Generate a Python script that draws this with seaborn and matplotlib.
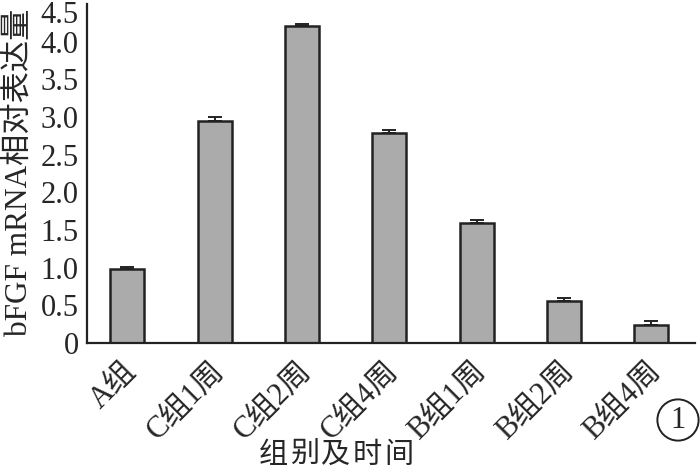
import matplotlib
matplotlib.use("Agg")
import matplotlib.pyplot as plt
import matplotlib.transforms as mtrans
import seaborn as sns
import numpy as np
import pandas as pd

categories = ["A组", "C组1周", "C组2周", "C组4周", "B组1周", "B组2周", "B组4周"]
values = [0.98, 2.95, 4.21, 2.79, 1.59, 0.56, 0.24]
errors = [0.03, 0.05, 0.03, 0.04, 0.04, 0.04, 0.05]
yticks = [0, 0.5, 1.0, 1.5, 2.0, 2.5, 3.0, 3.5, 4.0, 4.5]
ytick_labels = ["0", "0.5", "1.0", "1.5", "2.0", "2.5", "3.0", "3.5", "4.0", "4.5"]
xlabel_chars = ["组", "别", "及", "时", "间"]

sns.set_theme(style="white")
plt.rcParams['font.family'] = ['Liberation Serif', 'Noto Sans CJK SC']

W, H = 700, 472
fig = plt.figure(figsize=(W / 100, H / 100), dpi=100)
ax = fig.add_axes([87 / W, 1 - 343 / H, (695 - 87) / W, (343 - 4) / H])

df = pd.DataFrame({"group": categories, "value": values})
sns.barplot(data=df, x="group", y="value", color="#ababab", edgecolor="#222222",
            linewidth=1.8, width=0.39, saturation=1, ax=ax)
x = np.arange(len(categories))
ax.errorbar(x, values, yerr=[np.zeros(len(values)), errors], fmt="none",
            ecolor="#222222", elinewidth=1.4, capsize=4.7, capthick=1.4)

ax.set_xlim(-0.46, 6.5)
ax.set_ylim(0, 4.5)
ax.set_yticks(yticks)
ax.set_yticklabels(ytick_labels, fontsize=22)
ax.tick_params(axis="y", direction="in", length=8, width=1.4, color="#222222", pad=6)
ax.tick_params(axis="x", length=0, pad=10)
ax.set_xticks(x)
ax.set_xticklabels(categories, rotation=45, ha="right", va="top",
                   rotation_mode="anchor", fontsize=22)
shift = mtrans.ScaledTranslation(-5 / 100, 0, fig.dpi_scale_trans)
for lbl in ax.get_xticklabels():
    lbl.set_transform(lbl.get_transform() + shift)
top_lbl = ax.get_yticklabels()[-1]
top_lbl.set_va("top")
top_lbl.set_transform(top_lbl.get_transform() + mtrans.ScaledTranslation(0, 3 / 100, fig.dpi_scale_trans))

sns.despine(ax=ax)
for s in ["left", "bottom"]:
    ax.spines[s].set_color("#222222")
    ax.spines[s].set_linewidth(1.6)

ax.set_xlabel("")
ax.set_ylabel("")
fig.text(20 / W, 1 - 172 / H, "bFGF mRNA相对表达量", fontsize=22.5, rotation=90,
         ha="center", va="center")
for i, ch in enumerate(xlabel_chars):
    fig.text((273 + i * 31.5) / W, 1 - 456 / H, ch, fontsize=21, ha="center", va="center")
fig.text(678 / W, 1 - 420 / H, "1", fontsize=22, ha="center", va="center",
         bbox=dict(boxstyle="circle,pad=0.2", fc="none", ec="#222222", lw=1.4))

fig.savefig("out.png", dpi=100, facecolor="white")
